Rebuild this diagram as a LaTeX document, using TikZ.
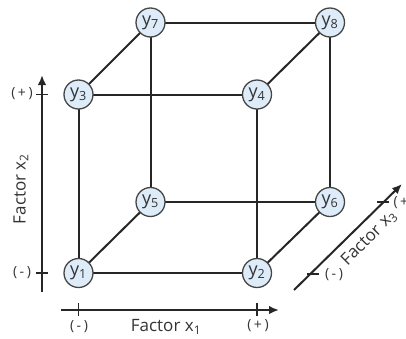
\documentclass[tikz,border=0pt]{standalone}
\usepackage{fontspec}
\setmainfont{Open Sans}
\usetikzlibrary{arrows.meta}
\definecolor{edge}{HTML}{262626}
\definecolor{nodefill}{HTML}{DDECF8}
\definecolor{nodeline}{HTML}{454545}
\tikzset{
  vert/.style={circle, draw=nodeline, line width=1.3pt, fill=nodefill, minimum size=29pt, inner sep=0pt, font=\fontsize{18}{18}\selectfont, text=black!80},
  cubeedge/.style={draw=edge, line width=2pt},
  axisline/.style={draw=edge, line width=2pt, -{Latex[length=10pt,width=8.5pt]}},
  tickline/.style={draw=edge, line width=1.1pt},
  ticklab/.style={font=\fontsize{14}{14}\selectfont\addfontfeature{LetterSpace=18}, text=black!80},
  axlab/.style={font=\fontsize{17}{17}\selectfont, text=black!80}
}
\begin{document}
\begin{tikzpicture}[x=1pt,y=-1pt]
\useasboundingbox (0,0) rectangle (406,338);
\clip (0,0) rectangle (406,338);
% cube edges (drawn first, under the vertices)
\coordinate (p1) at (78.5,273);
\coordinate (p2) at (257,273);
\coordinate (p3) at (78.5,94.5);
\coordinate (p4) at (257,94.5);
\coordinate (p5) at (150.5,202);
\coordinate (p6) at (330,202);
\coordinate (p7) at (150.5,22.5);
\coordinate (p8) at (330,22.5);
\draw[cubeedge] (p1) -- (p2);
\draw[cubeedge] (p1) -- (p3);
\draw[cubeedge] (p1) -- (p5);
\draw[cubeedge] (p2) -- (p4);
\draw[cubeedge] (p2) -- (p6);
\draw[cubeedge] (p3) -- (p4);
\draw[cubeedge] (p3) -- (p7);
\draw[cubeedge] (p4) -- (p8);
\draw[cubeedge] (p5) -- (p6);
\draw[cubeedge] (p5) -- (p7);
\draw[cubeedge] (p6) -- (p8);
\draw[cubeedge] (p7) -- (p8);
% cube vertices
\node[vert] (y1) at (p1) {y\textsubscript{1}};
\node[vert] (y2) at (p2) {y\textsubscript{2}};
\node[vert] (y3) at (p3) {y\textsubscript{3}};
\node[vert] (y4) at (p4) {y\textsubscript{4}};
\node[vert] (y5) at (p5) {y\textsubscript{5}};
\node[vert] (y6) at (p6) {y\textsubscript{6}};
\node[vert] (y7) at (p7) {y\textsubscript{7}};
\node[vert] (y8) at (p8) {y\textsubscript{8}};
% vertical axis (x2)
\coordinate (v0) at (42,292);
\coordinate (v1) at (42,75);
\draw[axisline] (v0) -- (v1);
\coordinate (vt1a) at (36,273); \coordinate (vt1b) at (48,273);
\coordinate (vt2a) at (36,94.5); \coordinate (vt2b) at (48,94.5);
\draw[tickline] (vt1a) -- (vt1b);
\draw[tickline] (vt2a) -- (vt2b);
\node[ticklab] (vm) at (22,273) {(-)};
\node[ticklab] (vp) at (22,94) {(+)};
\node[axlab, rotate=90] (fx2) at (21,189) {Factor x\textsubscript{2}};
% horizontal axis (x1)
\coordinate (h0) at (61,310);
\coordinate (h1) at (279,310);
\draw[axisline] (h0) -- (h1);
\coordinate (ht1a) at (78.5,303); \coordinate (ht1b) at (78.5,316);
\coordinate (ht2a) at (257,303); \coordinate (ht2b) at (257,316);
\draw[tickline] (ht1a) -- (ht1b);
\draw[tickline] (ht2a) -- (ht2b);
\node[ticklab] (hm) at (79,327) {(-)};
\node[ticklab] (hp) at (258,326) {(+)};
\node[axlab] (fx1) at (166,327) {Factor x\textsubscript{1}};
% diagonal axis (x3)
\coordinate (d0) at (294,290);
\coordinate (d1) at (402,184);
\draw[axisline] (d0) -- (d1);
\coordinate (dt1a) at (307,274); \coordinate (dt1b) at (319,274);
\coordinate (dt2a) at (377,202); \coordinate (dt2b) at (389,202);
\draw[tickline] (dt1a) -- (dt1b);
\draw[tickline] (dt2a) -- (dt2b);
\node[ticklab] (dm) at (334,275) {(-)};
\node[ticklab, anchor=west] (dp) at (390,202.5) {(+)};
\node[axlab, rotate=45] (fx3) at (369,238) {Factor x\textsubscript{3}};
\end{tikzpicture}
\end{document}
